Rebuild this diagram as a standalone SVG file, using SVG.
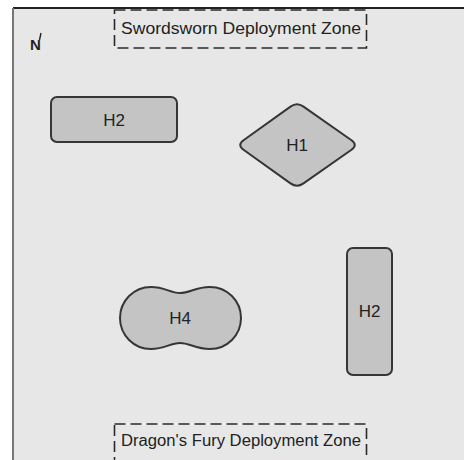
<svg xmlns="http://www.w3.org/2000/svg" width="464" height="460" viewBox="0 0 464 460">
<style>
.piece{fill:#c4c4c4;stroke:#363636;stroke-width:2}
.lbl{font-family:"Liberation Sans",Arial,sans-serif;font-size:17px;fill:#222;text-anchor:middle;dominant-baseline:central}
.zone{fill:none;stroke:#2a2a2a;stroke-width:1.6;stroke-dasharray:11 5}
.zlbl{font-family:"Liberation Sans",Arial,sans-serif;font-size:16px;fill:#222}
</style>
<rect x="0" y="0" width="464" height="460" fill="#ffffff"/>
<rect x="13" y="8" width="451" height="452" fill="#e7e7e7"/>
<line x1="13" y1="8" x2="464" y2="8" stroke="#222" stroke-width="2"/>
<line x1="13" y1="8" x2="13" y2="460" stroke="#777" stroke-width="2"/>
<g id="north">
<text x="35.5" y="50" font-family="Liberation Sans,Arial,sans-serif" font-size="15" font-weight="bold" fill="#222" text-anchor="middle">N</text>
<line x1="39.5" y1="40" x2="41" y2="33" stroke="#222" stroke-width="1.4"/>
</g>
<g id="zone-swordsworn">
<rect x="114.5" y="10" width="252" height="38" class="zone"/>
<text x="121" y="34" class="zlbl" textLength="240" lengthAdjust="spacingAndGlyphs">Swordsworn Deployment Zone</text>
</g>
<g id="zone-dragon">
<rect x="114.5" y="424" width="252" height="50" class="zone"/>
<text x="121" y="446" class="zlbl" textLength="240" lengthAdjust="spacingAndGlyphs">Dragon's Fury Deployment Zone</text>
</g>
<g id="h2-top">
<rect x="51" y="97" width="126" height="45" rx="6" class="piece"/>
<text x="114" y="120" class="lbl">H2</text>
</g>
<g id="h1">
<path d="M243.5,140.3 L290.5,106.6 Q297,102 303.5,106.6 L351.5,140.3 Q358,145 351.5,149.7 L303.5,183.4 Q297,188 290.5,183.4 L243.5,149.7 Q237,145 243.5,140.3 Z" class="piece"/>
<text x="297" y="145" class="lbl">H1</text>
</g>
<g id="h4">
<path d="M180,293 C190,293 195,287 210,287 A31 31 0 0 1 210 349 C195,349 190,343 180,343 C170,343 165,349 151,349 A31 31 0 0 1 151 287 C165,287 170,293 180,293 Z" class="piece"/>
<text x="180" y="318" class="lbl">H4</text>
</g>
<g id="h2-right">
<rect x="347" y="248" width="45" height="127" rx="6" class="piece"/>
<text x="369.5" y="311" class="lbl">H2</text>
</g>
<g id="connectors"></g>
</svg>
